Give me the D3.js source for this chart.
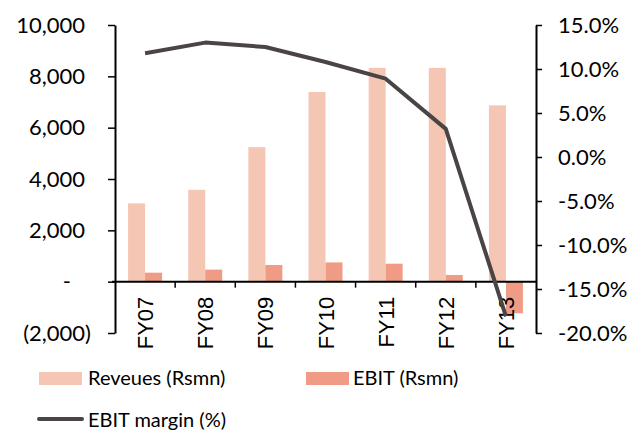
<!DOCTYPE html>
<html><head><meta charset="utf-8">
<script src="https://cdn.jsdelivr.net/npm/d3@7/dist/d3.min.js"></script>
<style>body{margin:0;background:#fff;}svg{display:block;}</style>
</head><body>
<script>
const categories = ["FY07","FY08","FY09","FY10","FY11","FY12","FY13"];
const revenues = [3050, 3580, 5240, 7390, 8330, 8330, 6870];
const ebit = [350, 470, 650, 750, 700, 260, -1230];
const ebitMargin = [11.8, 13.0, 12.5, 10.8, 8.9, 3.2, -18.1];
const leftTicks = [-2000, 0, 2000, 4000, 6000, 8000, 10000];
const rightTicks = [-20, -15, -10, -5, 0, 5, 10, 15];
const seriesNames = ["Reveues (Rsmn)", "EBIT (Rsmn)", "EBIT margin (%)"];
const colors = {rev: "#F5C6B4", ebit: "#EF9B86", line: "#4A4544"};

const W = 640, H = 432;
const svg = d3.select("body").append("svg").attr("width", W).attr("height", H);
const tickFont = "Lato, 'Open Sans', sans-serif";

const x = d3.scaleBand().domain(categories).range([115, 536]);
const xs = d3.scaleBand().domain(["rev","ebit"]).range([0, x.bandwidth()]).paddingOuter(0.77);
const yL = d3.scaleLinear().domain([-2000, 10000]).range([333, 25]);
const yR = d3.scaleLinear().domain([-20, 15]).range([333, 25]);

// bars
svg.append("g").selectAll("rect").data(revenues).join("rect")
  .attr("x", (d,i) => x(categories[i]) + xs("rev"))
  .attr("width", xs.bandwidth())
  .attr("y", d => yL(Math.max(0,d)))
  .attr("height", d => Math.abs(yL(d) - yL(0)))
  .attr("fill", colors.rev);
svg.append("g").selectAll("rect").data(ebit).join("rect")
  .attr("x", (d,i) => x(categories[i]) + xs("ebit"))
  .attr("width", xs.bandwidth())
  .attr("y", d => yL(Math.max(0,d)))
  .attr("height", d => Math.abs(yL(d) - yL(0)))
  .attr("fill", colors.ebit);

// left axis
const leftFmt = d => d === 0 ? "-" : (d < 0 ? "(" + d3.format(",")(-d) + ")" : d3.format(",")(d));
const gL = svg.append("g").attr("transform", "translate(115,0)")
  .call(d3.axisLeft(yL).tickValues(leftTicks).tickFormat(leftFmt).tickSize(7).tickSizeOuter(0).tickPadding(23));
gL.select(".domain").attr("stroke", "#000").attr("stroke-width", 2);
gL.selectAll(".tick line").attr("stroke", "#000").attr("stroke-width", 1.5);
gL.selectAll("text").attr("font-family", tickFont).attr("font-size", 22).attr("fill", "#000")
  .attr("dx", d => d === 0 ? -14 : (d < 0 ? 6 : 0));

// right axis
const rightFmt = d => (d < 0 ? "-" : "") + d3.format(".1f")(Math.abs(d)) + "%";
const gR = svg.append("g").attr("transform", "translate(536,0)")
  .call(d3.axisRight(yR).tickValues(rightTicks).tickFormat(rightFmt).tickSize(6).tickSizeOuter(0).tickPadding(16));
gR.select(".domain").attr("stroke", "#000").attr("stroke-width", 2);
gR.selectAll(".tick line").attr("stroke", "#000").attr("stroke-width", 1.5);
gR.selectAll("text").attr("font-family", tickFont).attr("font-size", 22).attr("fill", "#000");

// x axis at zero
const gX = svg.append("g").attr("transform", `translate(0,${yL(0)})`);
gX.append("line").attr("x1", 112).attr("x2", 536).attr("stroke", "#000").attr("stroke-width", 2);
gX.selectAll("line.t").data(categories.slice(1)).join("line").attr("class","t")
  .attr("x1", d => x(d)).attr("x2", d => x(d)).attr("y1", 0).attr("y2", 6)
  .attr("stroke", "#000").attr("stroke-width", 1.5);
gX.selectAll("text").data(categories).join("text")
  .attr("transform", d => `translate(${x(d) + x.bandwidth()/2 + 8},${15}) rotate(-90)`)
  .attr("text-anchor", "end")
  .attr("font-family", "'Liberation Sans', Arial, sans-serif")
  .attr("font-size", 22)
  .attr("fill", "#000")
  .text(d => d);

// line
const line = d3.line().x((d,i) => x(categories[i]) + x.bandwidth()/2).y(d => yR(d));
svg.append("path").datum(ebitMargin).attr("d", line)
  .attr("fill", "none").attr("stroke", colors.line).attr("stroke-width", 4).attr("stroke-linejoin", "round");

// legend
const lg = svg.append("g").attr("font-family", tickFont).attr("font-size", 20).attr("fill", "#000");
lg.append("rect").attr("x", 39).attr("y", 372).attr("width", 43).attr("height", 13).attr("fill", colors.rev);
lg.append("text").attr("x", 88).attr("y", 385).text(seriesNames[0]);
lg.append("rect").attr("x", 306).attr("y", 372).attr("width", 43).attr("height", 13).attr("fill", colors.ebit);
lg.append("text").attr("x", 353).attr("y", 385).text(seriesNames[1]);
lg.append("line").attr("x1", 39).attr("x2", 82).attr("y1", 419).attr("y2", 419).attr("stroke", colors.line).attr("stroke-width", 4).attr("stroke-linecap","round");
lg.append("text").attr("x", 88).attr("y", 427).text(seriesNames[2]);
</script>
</body></html>
